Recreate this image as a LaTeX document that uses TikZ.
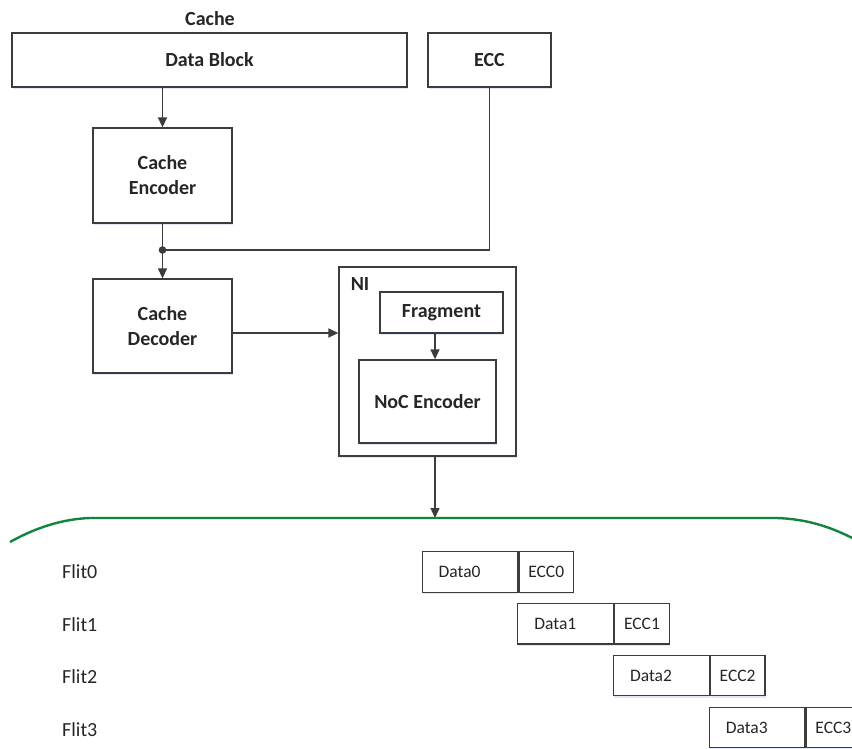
\documentclass[tikz,border=0pt]{standalone}
\usepackage{fontspec}
\setmainfont{Carlito}
\usetikzlibrary{arrows.meta,shadows}

\definecolor{linegray}{RGB}{60,60,60}
\definecolor{textgray}{RGB}{38,38,38}
\definecolor{busgreen}{RGB}{18,132,62}
\definecolor{shadowblue}{RGB}{200,212,238}

\tikzset{
  soft/.style={drop shadow={shadow xshift=0.6pt, shadow yshift=-2pt, fill=shadowblue, opacity=0.55}},
  blockbox/.style={draw=linegray, line width=1.3pt, fill=white, soft, inner sep=0pt,
    text=textgray, font=\fontsize{20}{25}\selectfont\bfseries, align=center},
  flitbox/.style={draw=linegray, line width=1.2pt, fill=white, soft, inner sep=0pt,
    minimum height=40.5pt},
  flittext/.style={text=textgray, font=\fontsize{17.5}{20}\selectfont, inner sep=0pt},
  fliplabel/.style={text=textgray, font=\fontsize{20}{24}\selectfont, inner sep=0pt, anchor=west},
  wire/.style={draw=linegray, line width=1.4pt},
  arrowwire/.style={wire, -{Triangle[length=10pt,width=9pt]}},
}

\begin{document}
\begin{tikzpicture}[x=1pt,y=-1pt]
\useasboundingbox (0,0) rectangle (852,749);
\clip (0,0) rectangle (852,749);

% cache arrays
\node[text=textgray, font=\fontsize{20}{24}\selectfont\bfseries] (cachelbl) at (210,19) {Cache};
\node[blockbox, minimum width=395pt, minimum height=54pt] (db) at (209.5,60) {Data Block};
\node[blockbox, minimum width=123pt, minimum height=54pt] (ecc) at (489.5,60) {ECC};

% cache codec
\node[blockbox, minimum width=139pt, minimum height=95pt] (cenc) at (162.5,175.5) {Cache\\Encoder};
\node[blockbox, minimum width=139pt, minimum height=94pt] (cdec) at (162.5,326) {Cache\\Decoder};

% network interface
\node[blockbox, minimum width=177pt, minimum height=189pt] (ni) at (427.5,361.5) {};
\node[text=textgray, font=\fontsize{20}{24}\selectfont\bfseries] (nilbl) at (360,284) {NI};
\node[blockbox, minimum width=123pt, minimum height=41pt] (frag) at (441.5,312.5) {Fragment};
\node[blockbox, minimum width=137pt, minimum height=83pt] (noc) at (427.5,401.5) {NoC Encoder};

% junction and bus end points
\coordinate (jn) at (162.5,250);
\coordinate (busin) at (435,518);

% connectors
\draw[arrowwire] (cenc.north |- db.south) -- (cenc.north);
\draw[wire] (ecc.south) |- (jn);
\draw[arrowwire] (cenc.south) -- (cdec.north);
\fill[linegray] (jn) circle (3.8pt);
\draw[arrowwire] (cdec.east |- 0,333) -- (ni.west |- 0,333);
\draw[arrowwire] (frag.south -| 435,0) -- (noc.north -| 435,0);
\draw[arrowwire] (ni.south -| 435,0) -- (busin);

% on-chip network link
\draw[busgreen, line width=2.4pt]
  (10,542) .. controls (35,528) and (62,519) .. (90,518)
  -- (777,518) .. controls (805,519) and (830,526) .. (856,540);

% flits
\foreach \i/\y in {0/572, 1/624.5, 2/677, 3/729.5}{
  \node[fliplabel] (flit\i) at (62,\y) {Flit\i};
}
\foreach \i in {0,1,2,3}{
  \pgfmathsetmacro{\xl}{421.5+95.7*\i}
  \pgfmathsetmacro{\yc}{572+51.8*\i}
  \node[flitbox, minimum width=95.7pt, anchor=west] (data\i) at (\xl,\yc) {};
  \node[flitbox, minimum width=54.5pt, anchor=west] (ecc\i) at (data\i.east) {};
  \node[flittext, anchor=west] (datatxt\i) at ([xshift=17pt]data\i.west) {Data\i};
  \node[flittext] (ecctxt\i) at (ecc\i.center) {ECC\i};
}
\end{tikzpicture}
\end{document}
